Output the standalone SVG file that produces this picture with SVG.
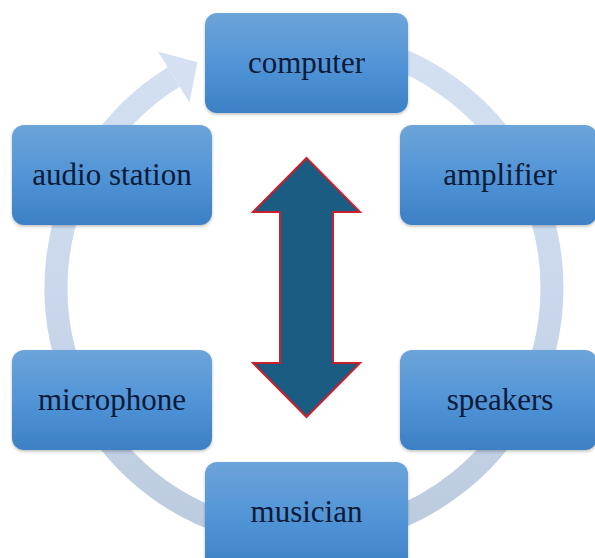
<svg xmlns="http://www.w3.org/2000/svg" width="595" height="558" viewBox="0 0 595 558">
  <defs>
    <linearGradient id="boxg" x1="0" y1="0" x2="0" y2="1">
      <stop offset="0" stop-color="#6da4da"/>
      <stop offset="0.55" stop-color="#4f93d6"/>
      <stop offset="1" stop-color="#3c80c5"/>
    </linearGradient>
    <linearGradient id="ringg" gradientUnits="userSpaceOnUse" x1="0" y1="30" x2="0" y2="545">
      <stop offset="0" stop-color="#d5e1f2"/>
      <stop offset="0.5" stop-color="#c9d8ec"/>
      <stop offset="1" stop-color="#bccade"/>
    </linearGradient>
    <filter id="sh" x="-10%" y="-10%" width="120%" height="130%">
      <feDropShadow dx="0" dy="1.5" stdDeviation="1.5" flood-color="#000" flood-opacity="0.25"/>
    </filter>
  </defs>
  <style>
    .box { fill: url(#boxg); filter: url(#sh); }
    .lbl { font-family: "Liberation Serif", "Times New Roman", serif; font-size: 31px; fill: #0b1a38; text-anchor: middle; }
    .ring { fill: none; stroke: url(#ringg); stroke-width: 23; }
  </style>
  <rect width="595" height="558" fill="#ffffff"/>
  <g id="connectors">
    <path class="ring" d="M 347.1 43.8 A 248 248 0 1 1 173.7 77.0"/>
    <polygon points="157.9,51.5 197.5,62.3 189.5,102.5" fill="#d5e1f2"/>
  </g>
  <g id="node-computer">
    <rect class="box" x="205" y="13" width="203" height="100" rx="12"/>
    <text class="lbl" x="306.5" y="73">computer</text>
  </g>
  <g id="node-amplifier">
    <rect class="box" x="400" y="125" width="197" height="100" rx="12"/>
    <text class="lbl" x="500" y="185">amplifier</text>
  </g>
  <g id="node-speakers">
    <rect class="box" x="400" y="350" width="197" height="100" rx="12"/>
    <text class="lbl" x="500" y="410">speakers</text>
  </g>
  <g id="node-musician">
    <rect class="box" x="205" y="462" width="203" height="110" rx="12"/>
    <text class="lbl" x="306.5" y="522">musician</text>
  </g>
  <g id="node-microphone">
    <rect class="box" x="12" y="350" width="200" height="100" rx="12"/>
    <text class="lbl" x="112" y="410">microphone</text>
  </g>
  <g id="node-audio-station">
    <rect class="box" x="12" y="125" width="200" height="100" rx="12"/>
    <text class="lbl" x="112" y="185">audio station</text>
  </g>
  <g id="double-arrow">
    <polygon points="306.5,158 360,212 333,212 333,363 360,363 306.5,417 253,363 280,363 280,212 253,212" fill="#1b5c82" stroke="#c9202e" stroke-width="2" stroke-linejoin="miter"/>
  </g>
</svg>
